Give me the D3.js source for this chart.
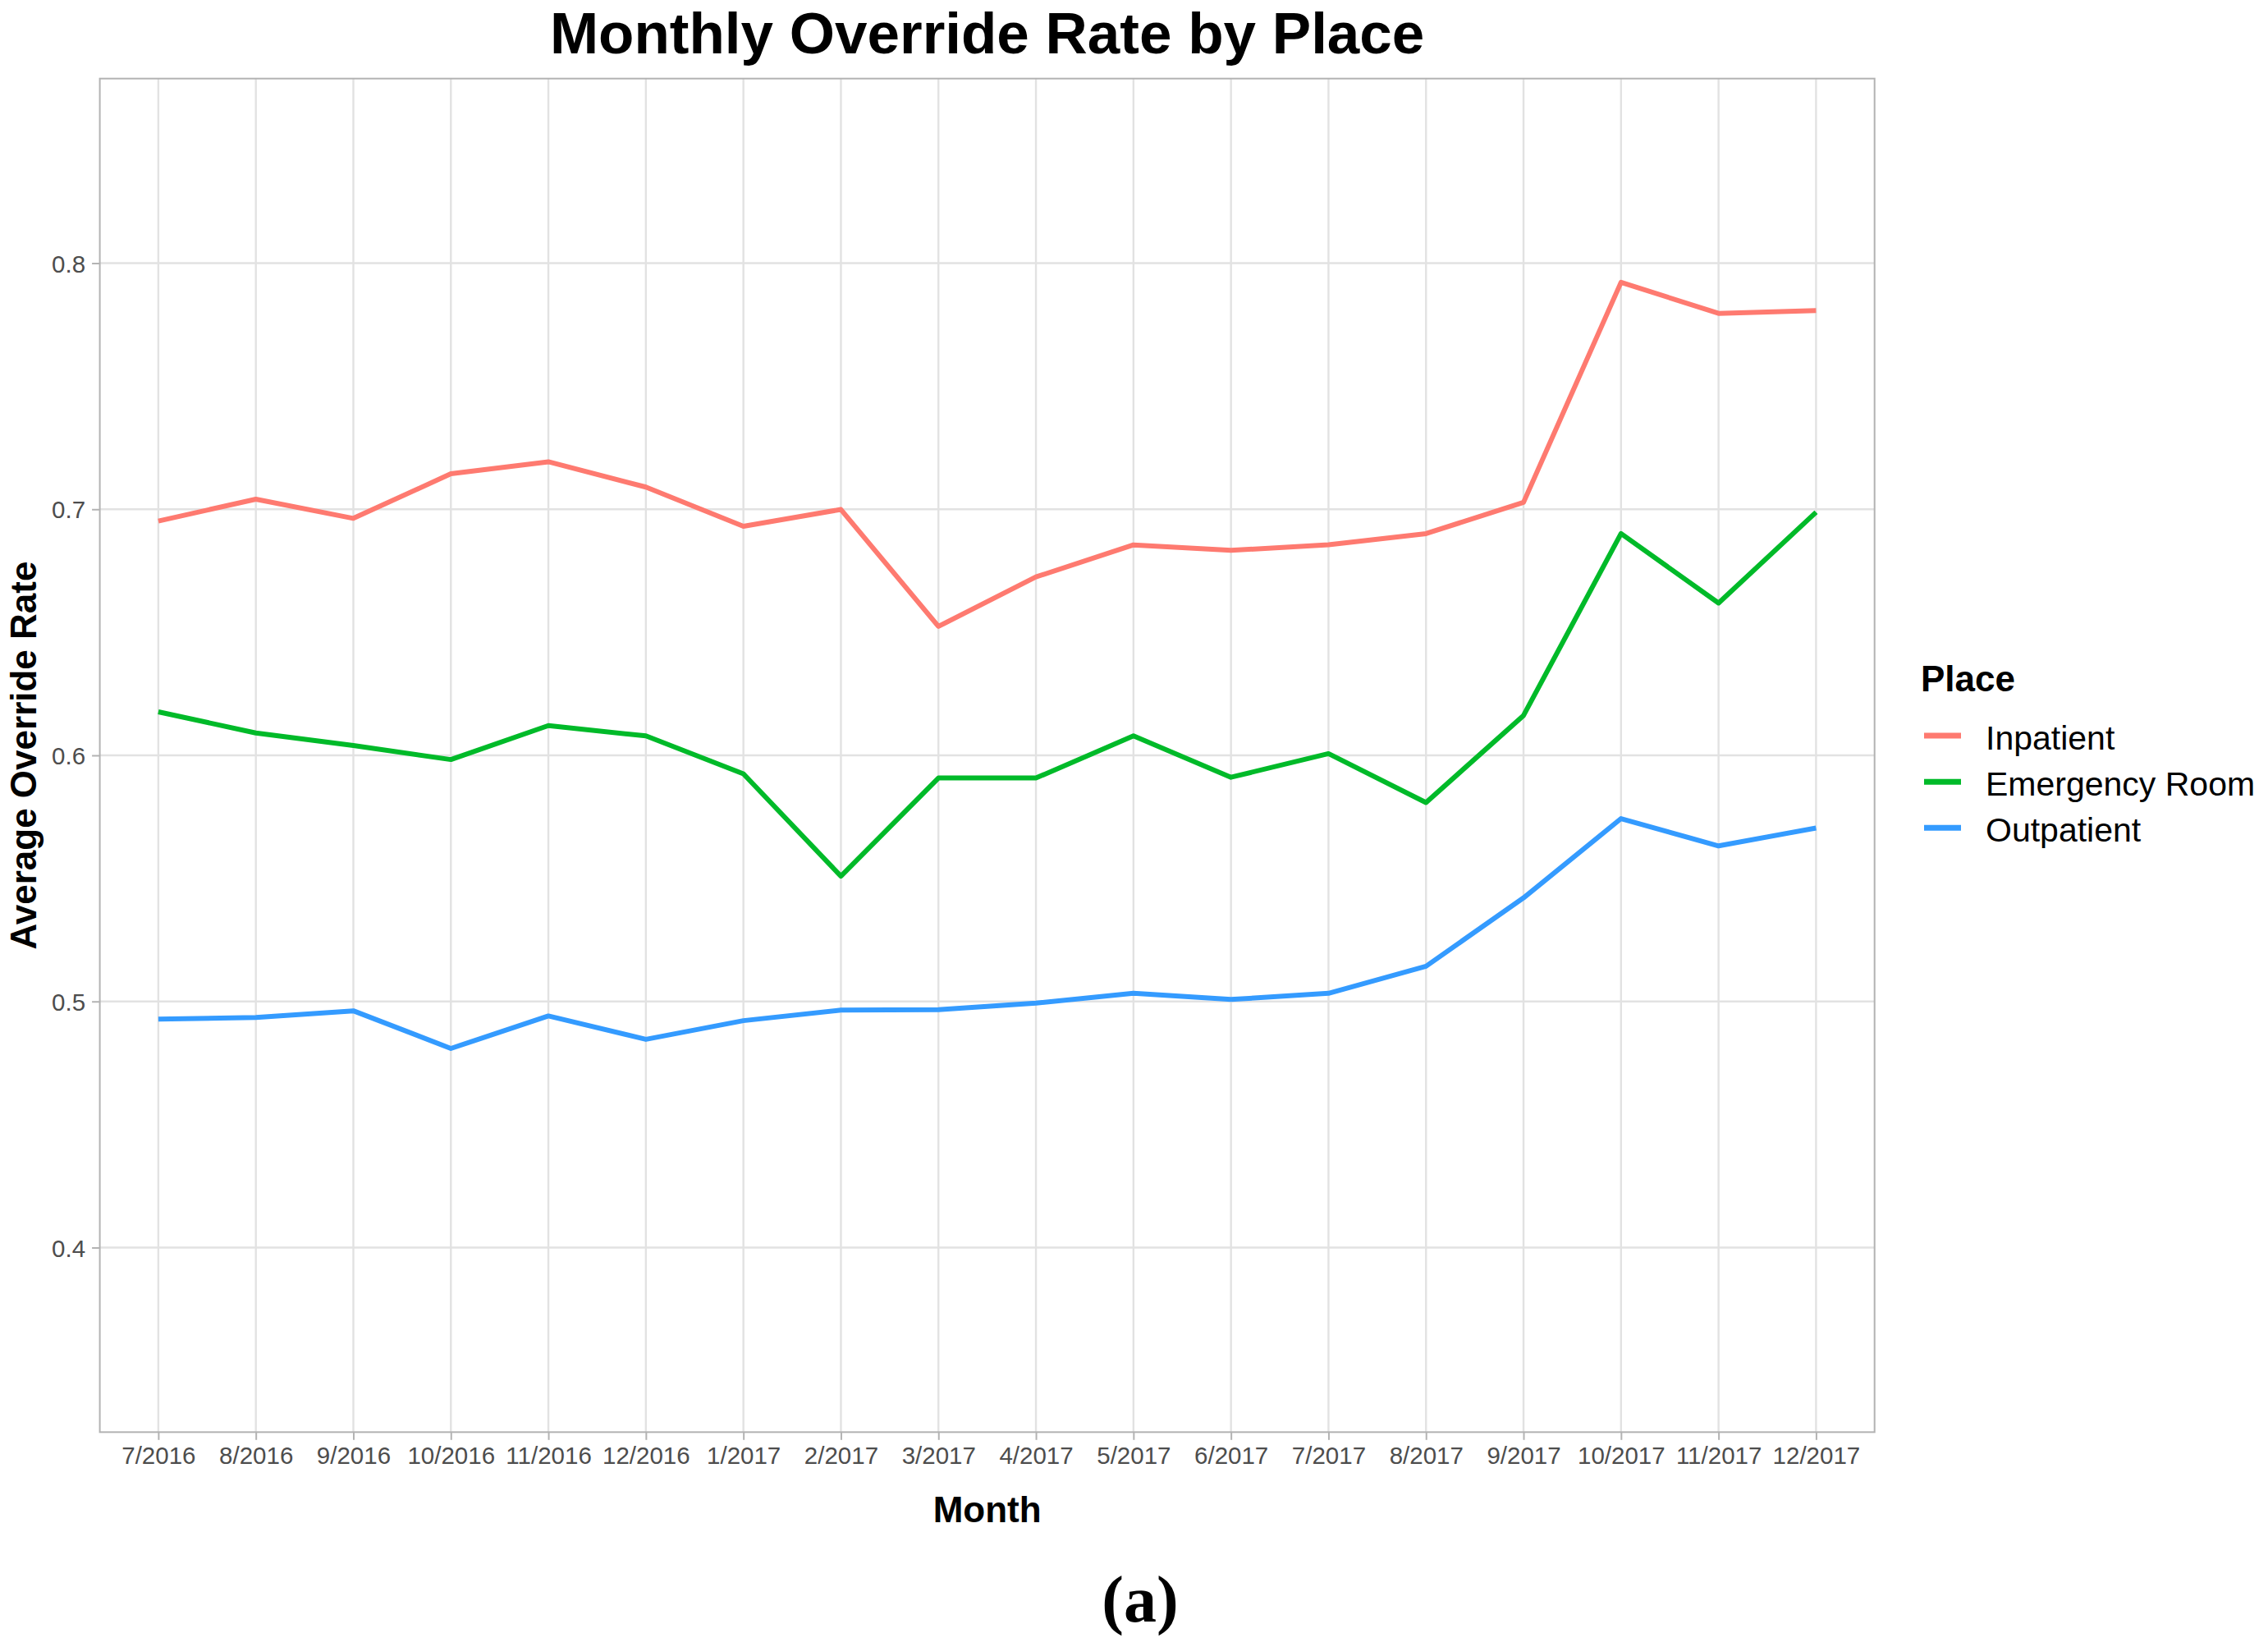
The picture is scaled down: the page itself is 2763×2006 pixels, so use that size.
<!DOCTYPE html>
<html>
<head>
<meta charset="utf-8">
<script src="https://cdn.jsdelivr.net/npm/d3@7"></script>
<style>
  html, body { margin: 0; padding: 0; background: #ffffff; }
  svg { display: block; font-family: "Liberation Sans", Arial, sans-serif; }
</style>
</head>
<body>
<script>
// ---- Data ----
const months = ["7/2016","8/2016","9/2016","10/2016","11/2016","12/2016","1/2017","2/2017","3/2017",
                "4/2017","5/2017","6/2017","7/2017","8/2017","9/2017","10/2017","11/2017","12/2017"];
const places = ["Inpatient", "Emergency Room", "Outpatient"];
const inpatient = [0.6952, 0.7041, 0.6963, 0.7144, 0.7193, 0.7090, 0.6931, 0.6999, 0.6524,
                   0.6725, 0.6855, 0.6833, 0.6856, 0.6901, 0.7028, 0.7922, 0.7796, 0.7807];
const emergencyRoom = [0.6177, 0.6091, 0.6040, 0.5983, 0.6121, 0.6079, 0.5925, 0.5509, 0.5908,
                       0.5908, 0.6079, 0.5911, 0.6007, 0.5808, 0.6162, 0.6901, 0.6619, 0.6988];
const outpatient = [0.4928, 0.4935, 0.4962, 0.4809, 0.4941, 0.4846, 0.4922, 0.4965, 0.4967,
                    0.4993, 0.5033, 0.5008, 0.5033, 0.5143, 0.5421, 0.5743, 0.5632, 0.5705];
const yTicks = [0.4, 0.5, 0.6, 0.7, 0.8];
const yLimits = [0.35, 0.85];
const colors = ["#FE7A70", "#00BA29", "#349BFF"];
const titleText = "Monthly Override Rate by Place";
const xTitle = "Month";
const yTitle = "Average Override Rate";
const legendTitle = "Place";
const caption = "(a)";

const seriesValues = [inpatient, emergencyRoom, outpatient];

// ---- Layout ----
const W = 2763, H = 2006;
const panel = { left: 121.6, right: 2283.7, top: 95.7, bottom: 1744.3 };

const svg = d3.select("body").append("svg").attr("width", W).attr("height", H);

const x = d3.scalePoint().domain(months).range([panel.left, panel.right]).padding(0.6);
const pad = (yLimits[1] - yLimits[0]) * 0.05;
const y = d3.scaleLinear().domain([yLimits[0] - pad, yLimits[1] + pad]).range([panel.bottom, panel.top]);

// Grid
const grid = svg.append("g");
grid.selectAll("line.h").data(yTicks).join("line")
  .attr("x1", panel.left).attr("x2", panel.right)
  .attr("y1", d => y(d)).attr("y2", d => y(d))
  .attr("stroke", "#e2e2e2").attr("stroke-width", 2.4);
grid.selectAll("line.v").data(months).join("line")
  .attr("x1", d => x(d)).attr("x2", d => x(d))
  .attr("y1", panel.top).attr("y2", panel.bottom)
  .attr("stroke", "#e2e2e2").attr("stroke-width", 2.4);

// Lines
const line = d3.line().x((d, i) => x(months[i])).y(d => y(d));
svg.append("g").selectAll("path").data(seriesValues).join("path")
  .attr("d", d => line(d))
  .attr("fill", "none")
  .attr("stroke", (d, i) => colors[i])
  .attr("stroke-width", 6)
  .attr("stroke-linejoin", "round")
  .attr("stroke-linecap", "butt");

// Panel border
svg.append("rect")
  .attr("x", panel.left).attr("y", panel.top)
  .attr("width", panel.right - panel.left).attr("height", panel.bottom - panel.top)
  .attr("fill", "none").attr("stroke", "#b3b3b3").attr("stroke-width", 2);

// Axes
const xAxis = d3.axisBottom(x).tickSize(9.5).tickPadding(8);
const gx = svg.append("g").attr("transform", `translate(0,${panel.bottom})`).call(xAxis);
gx.select(".domain").remove();
gx.selectAll(".tick line").attr("stroke", "#b3b3b3").attr("stroke-width", 2);
gx.selectAll(".tick text").attr("fill", "#4d4d4d").attr("font-size", 29.5)
  .attr("font-family", "'Liberation Sans', Arial, sans-serif").attr("dy", "0.71em");

const yAxis = d3.axisLeft(y).tickValues(yTicks).tickFormat(d3.format(".1f")).tickSize(9.5).tickPadding(8);
const gy = svg.append("g").attr("transform", `translate(${panel.left},0)`).call(yAxis);
gy.select(".domain").remove();
gy.selectAll(".tick line").attr("stroke", "#b3b3b3").attr("stroke-width", 2);
gy.selectAll(".tick text").attr("fill", "#4d4d4d").attr("font-size", 29.5)
  .attr("font-family", "'Liberation Sans', Arial, sans-serif").attr("dy", "0.36em");

// Titles
const cx = (panel.left + panel.right) / 2;
svg.append("text").attr("x", cx).attr("y", 65).attr("text-anchor", "middle")
  .attr("font-size", 71).attr("font-weight", "bold").attr("fill", "#000").text(titleText);
svg.append("text").attr("x", cx).attr("y", 1854).attr("text-anchor", "middle")
  .attr("font-size", 44).attr("font-weight", "bold").attr("fill", "#000").text(xTitle);
svg.append("text")
  .attr("transform", `translate(43.5,${(panel.top + panel.bottom) / 2}) rotate(-90)`)
  .attr("text-anchor", "middle")
  .attr("font-size", 44).attr("font-weight", "bold").attr("fill", "#000").text(yTitle);

// Legend
const lg = svg.append("g");
lg.append("text").attr("x", 2340).attr("y", 842).attr("font-size", 44).attr("font-weight", "bold")
  .attr("fill", "#000").text(legendTitle);
const keyY = [896, 952.3, 1008.3];
const items = lg.selectAll("g.item").data(places).join("g").attr("class", "item");
items.append("line")
  .attr("x1", 2344).attr("x2", 2389)
  .attr("y1", (d, i) => keyY[i]).attr("y2", (d, i) => keyY[i])
  .attr("stroke", (d, i) => colors[i]).attr("stroke-width", 7);
items.append("text")
  .attr("x", 2419).attr("y", (d, i) => keyY[i] + 16.7)
  .attr("font-size", 41).attr("fill", "#000").text(d => d);

// Caption
svg.append("text").attr("x", 1389).attr("y", 1975).attr("text-anchor", "middle")
  .attr("font-family", "'Liberation Serif', 'Times New Roman', serif")
  .attr("font-size", 80).attr("font-weight", "bold").attr("fill", "#000").text(caption);
</script>
</body>
</html>
